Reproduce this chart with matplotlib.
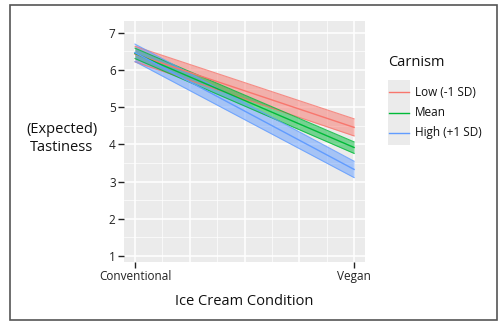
import matplotlib
matplotlib.use("Agg")
import matplotlib.pyplot as plt
from matplotlib.patches import Rectangle
from matplotlib.lines import Line2D
import numpy as np

plt.rcParams['font.family'] = ['Open Sans', 'DejaVu Sans']

# x positions of the two conditions
conditions = ["Conventional", "Vegan"]
cond_x = [0, 1]

groups = ["Low (-1 SD)", "Mean", "High (+1 SD)"]
colors = ["#F8766D", "#00BA38", "#619CFF"]

# predicted tastiness and CI at conventional / vegan
low_fit = [6.43, 4.46]
low_lo = [6.22, 4.23]
low_hi = [6.64, 4.69]

mean_fit = [6.45, 3.92]
mean_lo = [6.31, 3.76]
mean_hi = [6.59, 4.07]

high_fit = [6.47, 3.33]
high_lo = [6.23, 3.11]
high_hi = [6.70, 3.55]

fits = [low_fit, mean_fit, high_fit]
los = [low_lo, mean_lo, high_lo]
his = [low_hi, mean_hi, high_hi]

fig = plt.figure(figsize=(4.99, 3.22), dpi=100)
ax = fig.add_axes([0.2485, 0.1863, 0.483, 0.7485])
ax.set_facecolor("#EBEBEB")

for fit, lo, hi, c in zip(fits, los, his, colors):
    ax.fill_between(cond_x, lo, hi, color=c, alpha=0.5, lw=0, zorder=3)
    ax.plot(cond_x, lo, color=c, lw=0.8, alpha=0.8, zorder=4)
    ax.plot(cond_x, hi, color=c, lw=0.8, alpha=0.8, zorder=4)
    ax.plot(cond_x, fit, color=c, lw=1.0, zorder=5)

ax.set_xlim(-0.05, 1.05)
ax.set_ylim(0.84, 7.32)

# grid
for gx in [0, 0.25, 0.5, 0.75, 1]:
    ax.axvline(gx, color="white", lw=1.1, zorder=1)
for gx in [0.125, 0.375, 0.625, 0.875]:
    ax.axvline(gx, color="white", lw=0.5, zorder=1)
for gy in range(1, 8):
    ax.axhline(gy, color="white", lw=1.1, zorder=1)
for gy in np.arange(1.5, 7.5, 1):
    ax.axhline(gy, color="white", lw=0.5, zorder=1)

for s in ax.spines.values():
    s.set_visible(False)

ax.set_xticks(cond_x)
ax.set_xticklabels(conditions)
ax.set_yticks(range(1, 8))
ax.tick_params(axis="both", colors="#222222", labelcolor="#222222",
               labelsize=8.5, length=4, width=1.0, pad=2)

ax.set_xlabel("Ice Cream Condition", fontsize=10.5, color="#111111", labelpad=8)
fig.text(0.124, 0.57, "(Expected)\nTastiness", ha="center", va="center",
         fontsize=10.5, color="#111111", linespacing=1.3)

# legend
fig.text(0.778, 0.805, "Carnism", fontsize=10.5, color="#111111", va="center")
fig.patches.append(Rectangle((0.778, 0.55), 0.044, 0.202, transform=fig.transFigure,
                             facecolor="#EBEBEB", edgecolor="none"))
key_y = [0.713, 0.65, 0.587]
for ky, lab, c in zip(key_y, groups, colors):
    fig.lines.append(Line2D([0.780, 0.820], [ky, ky], transform=fig.transFigure,
                            color=c, lw=1.0))
    fig.text(0.832, ky, lab, fontsize=8.5, color="#111111", va="center")

# outer frame
fig.patches.append(Rectangle((0.02, 0.006), 0.976, 0.979, transform=fig.transFigure,
                             facecolor="none", edgecolor="#555555", lw=1.2))

fig.savefig("out.png", dpi=100)
